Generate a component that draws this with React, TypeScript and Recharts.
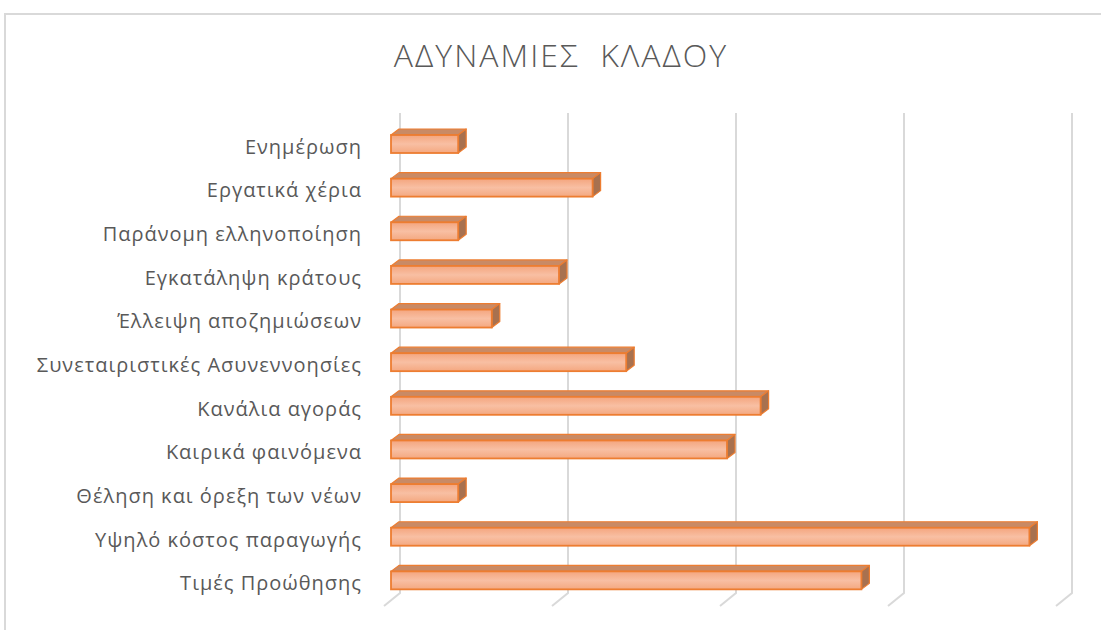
import React from 'react';
import { BarChart, Bar, XAxis, YAxis, CartesianGrid } from 'recharts';

const categories = [
  'Ενημέρωση',
  'Εργατικά χέρια',
  'Παράνομη ελληνοποίηση',
  'Εγκατάληψη κράτους',
  'Έλλειψη αποζημιώσεων',
  'Συνεταιριστικές Ασυνεννοησίες',
  'Κανάλια αγοράς',
  'Καιρικά φαινόμενα',
  'Θέληση και όρεξη των νέων',
  'Υψηλό κόστος παραγωγής',
  'Τιμές Προώθησης',
];
const values = [2, 6, 2, 5, 3, 7, 11, 10, 2, 19, 14];
const xTicks = [0, 5, 10, 15, 20];
const title = 'ΑΔΥΝΑΜΙΕΣ  ΚΛΑΔΟΥ';

const data = categories.map((name, i) => ({ name, value: values[i] }));

const DX = 8;
const DY = 6;
const FONT = '"Open Sans", sans-serif';

const Bar3D = (props: any) => {
  const { x, y, width, height } = props;
  if (width == null || height == null) return null;
  const w = Math.max(width, 0);
  return (
    <g>
      <polygon
        points={`${x},${y} ${x + DX},${y - DY} ${x + w + DX},${y - DY} ${x + w},${y}`}
        fill="#C98A65"
        stroke="#ED7D31"
        strokeWidth={1.2}
        strokeLinejoin="round"
      />
      <polygon
        points={`${x + w},${y} ${x + w + DX},${y - DY} ${x + w + DX},${y + height - DY} ${x + w},${y + height}`}
        fill="#A8714F"
        stroke="#ED7D31"
        strokeWidth={1.2}
        strokeLinejoin="round"
      />
      <rect
        x={x}
        y={y}
        width={w}
        height={height}
        fill="url(#frontGrad)"
        stroke="#ED7D31"
        strokeWidth={1.8}
      />
    </g>
  );
};

const GridLine = (props: any) => {
  const { x1, y1, y2, index } = props;
  const bx = x1 + 9;
  const top = y1 - 9;
  const bot = y2 - 9;
  return (
    <path
      key={`g${index}-${x1}`}
      d={`M${bx},${top} L${bx},${bot} L${bx - 16},${bot + 13}`}
      fill="none"
      stroke="#D9D9D9"
      strokeWidth={2}
    />
  );
};

const NoTick = () => <g />;

const CatTick = (props: any) => {
  const { x, y, payload } = props;
  return (
    <text
      x={x}
      y={y}
      dy="0.5em"
      textAnchor="end"
      fill="#595959"
      fontSize={20}
      fontFamily={FONT}
      letterSpacing={1}
    >
      {payload.value}
    </text>
  );
};

export default function App() {
  return (
    <div
      style={{
        position: 'absolute',
        left: 0,
        top: 0,
        width: 1101,
        height: 630,
        overflow: 'hidden',
        background: '#FFFFFF',
      }}
    >
      <div
        style={{
          position: 'absolute',
          left: 4,
          top: 13,
          width: 1200,
          height: 700,
          border: '2px solid #D9D9D9',
          boxSizing: 'border-box',
        }}
      />
      <div
        style={{
          position: 'absolute',
          left: 0,
          width: 1122,
          top: 33,
          textAlign: 'center',
          fontFamily: FONT,
          fontWeight: 300,
          fontSize: 32,
          lineHeight: 'normal',
          color: '#595959',
          whiteSpace: 'pre',
          letterSpacing: 2,
        }}
      >
        {title}
      </div>
      <div style={{ position: 'absolute', left: 0, top: 0 }}>
        <BarChart
          width={1101}
          height={630}
          data={data}
          layout="vertical"
          margin={{ top: 122, right: 38, bottom: 28, left: 0 }}
          barCategoryGap={0}
        >
          <defs>
            <linearGradient id="frontGrad" x1="0" y1="0" x2="0" y2="1">
              <stop offset="0%" stopColor="#F4A57E" />
              <stop offset="50%" stopColor="#F8BFA3" />
              <stop offset="100%" stopColor="#F4A880" />
            </linearGradient>
          </defs>
          <CartesianGrid horizontal={false} vertical={GridLine} />
          <XAxis
            type="number"
            domain={[0, 20]}
            ticks={xTicks}
            tick={NoTick}
            axisLine={false}
            tickLine={false}
            height={0}
            interval={0}
          />
          <YAxis
            type="category"
            dataKey="name"
            width={391}
            axisLine={false}
            tickLine={false}
            tickSize={0}
            tickMargin={29}
            interval={0}
            tick={CatTick}
          />
          <Bar
            dataKey="value"
            barSize={18}
            shape={Bar3D}
            isAnimationActive={false}
          />
        </BarChart>
      </div>
    </div>
  );
}
